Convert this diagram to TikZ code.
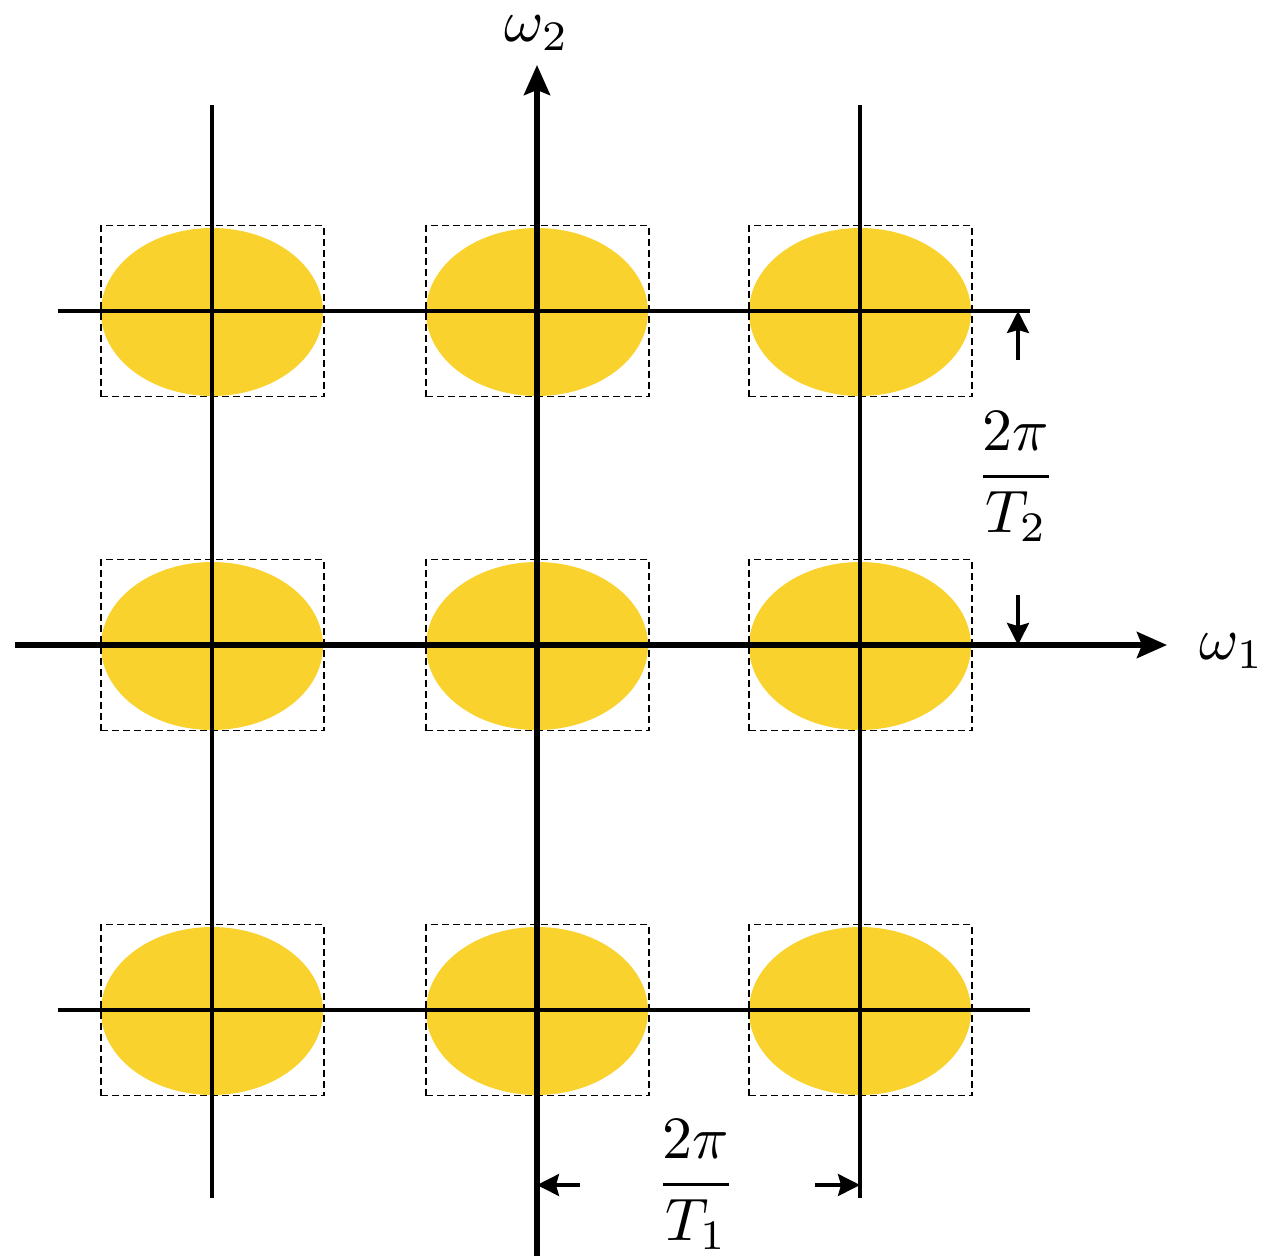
\documentclass[tikz,border=0pt]{standalone}
\usetikzlibrary{arrows.meta,shapes.geometric}
\definecolor{blobyellow}{RGB}{249,210,46}
\begin{document}
\begin{tikzpicture}[x=1pt,y=-1pt,
  blob/.style={ellipse,fill=blobyellow,minimum width=222pt,minimum height=168pt,inner sep=0pt},
  dbox/.style={draw,dashed,line width=1.8pt,dash pattern=on 7pt off 4pt,minimum width=223pt,minimum height=171pt,inner sep=0pt},
  gridline/.style={line width=3.5pt},
  axisline/.style={line width=5.5pt,-{Stealth[length=30pt,width=26pt,inset=5pt]}},
  dimarrow/.style={line width=3.2pt,-{Stealth[length=22pt,width=22pt,inset=3pt]}},
  lbl/.style={scale=6,inner sep=0pt}]
\useasboundingbox (0,0) rectangle (1269,1256);
% blobs and boxes
\foreach \c/\x in {a/212,b/537,c/860}{
  \foreach \r/\y in {1/311,2/645,3/1010}{
    \node[blob] (e\c\r) at (\x,\y+1) {};
    \node[dbox] (d\c\r) at (\x+0.5,\y) {};
  }
}
% grid lines
\coordinate (va1) at (212,105); \coordinate (va2) at (212,1198);
\coordinate (vc1) at (860,105); \coordinate (vc2) at (860,1198);
\coordinate (h11) at (58,311); \coordinate (h12) at (1030,311);
\coordinate (h31) at (58,1010); \coordinate (h32) at (1030,1010);
\draw[gridline] (va1) -- (va2);
\draw[gridline] (vc1) -- (vc2);
\draw[gridline] (h11) -- (h12);
\draw[gridline] (h31) -- (h32);
% axes
\coordinate (xs) at (15,645); \coordinate (xe) at (1167,645);
\coordinate (ys) at (537,1256); \coordinate (ye) at (537,65);
\draw[axisline] (xs) -- (xe);
\draw[axisline] (ys) -- (ye);
\node[lbl] (w1) at (1232,651) {$\omega_1$};
\node[lbl] (w2) at (537,33) {$\omega_2$};
% dimension T2
\coordinate (t2a) at (1018,360); \coordinate (t2b) at (1018,311);
\coordinate (t2c) at (1018,595); \coordinate (t2d) at (1018,645);
\draw[dimarrow] (t2a) -- (t2b);
\draw[dimarrow] (t2c) -- (t2d);
\node[lbl] (f2) at (1016,477) {$\displaystyle\frac{2\pi}{T_2}$};
% dimension T1
\coordinate (t1a) at (580,1185); \coordinate (t1b) at (537,1185);
\coordinate (t1c) at (815,1185); \coordinate (t1d) at (860,1185);
\draw[dimarrow] (t1a) -- (t1b);
\draw[dimarrow] (t1c) -- (t1d);
\node[lbl] (f1) at (696,1185) {$\displaystyle\frac{2\pi}{T_1}$};
\end{tikzpicture}
\end{document}
